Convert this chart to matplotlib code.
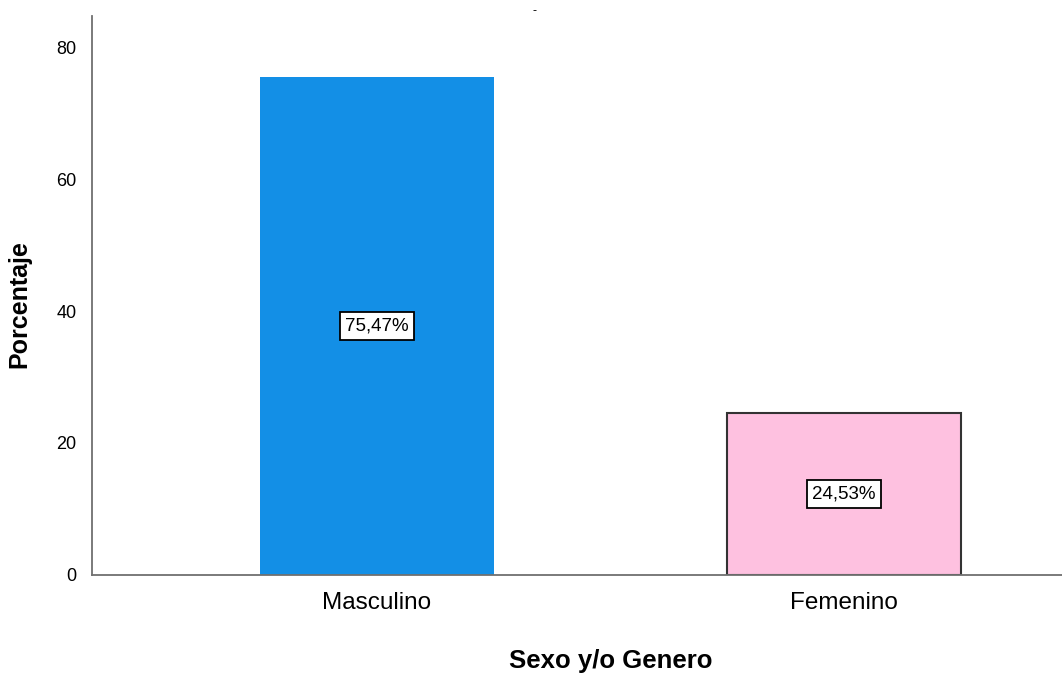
import matplotlib.pyplot as plt

categorias = ["Masculino", "Femenino"]
porcentajes = [75.47, 24.53]
etiquetas = ["75,47%", "24,53%"]
colores = ["#138fe6", "#fec1e0"]
bordes = ["none", "#333333"]

plt.rcParams['font.family'] = ['Liberation Sans', 'DejaVu Sans']

fig = plt.figure(figsize=(10.62, 6.79), dpi=100)
ax = fig.add_axes([0.0866, 0.1532, 0.9134, 0.8232])

x = list(range(len(categorias)))
bars = ax.bar(x, porcentajes, width=0.5, color=colores, edgecolor=bordes, linewidth=1.5)

for xi, val, lab in zip(x, porcentajes, etiquetas):
    ax.text(xi, val / 2, lab, ha="center", va="center", fontsize=13.5,
            bbox=dict(boxstyle="square,pad=0.28", facecolor="white", edgecolor="black", linewidth=1.3))

ax.set_xlim(-0.609, 1.466)
ax.set_ylim(0, 84.7)
ax.set_yticks([0, 20, 40, 60, 80])
ax.set_xticks(x)
ax.set_xticklabels(categorias, fontsize=17.5)
ax.tick_params(axis="y", length=0, labelsize=13, pad=11)
ax.tick_params(axis="x", length=0, pad=12)

for s in ["top", "right"]:
    ax.spines[s].set_visible(False)
for s in ["left", "bottom"]:
    ax.spines[s].set_color("#707070")
    ax.spines[s].set_linewidth(1.3)

ax.set_ylabel("Porcentaje", fontsize=18, fontweight="bold")
ax.yaxis.set_label_coords(-0.062, 0.485)
ax.set_xlabel("Sexo y/o Genero", fontsize=18.5, fontweight="bold")
ax.xaxis.set_label_coords(0.535, -0.133)

fig.text(0.503, 0.992, "-", ha="center", va="top", fontsize=9)

fig.savefig("out.png", dpi=100)
